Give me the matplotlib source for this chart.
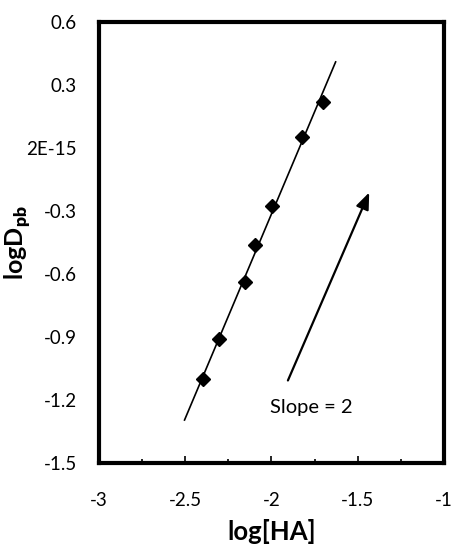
import matplotlib.pyplot as plt
import numpy as np

plt.rcParams['font.family'] = ['Lato', 'DejaVu Sans']
plt.rcParams['mathtext.fontset'] = 'custom'
plt.rcParams['mathtext.bf'] = 'Lato:heavy'

log_ha = [-2.395, -2.303, -2.153, -2.095, -1.997, -1.824, -1.703]
log_d = [-1.10, -0.91, -0.638, -0.462, -0.276, 0.052, 0.219]
fit_range = [-2.504, -1.628]

y_ticks = [0.6, 0.3, 0.0, -0.3, -0.6, -0.9, -1.2, -1.5]
y_labels = ["0.6", "0.3", "2E-15", "-0.3", "-0.6", "-0.9", "-1.2", "-1.5"]
x_ticks = [-3, -2.5, -2, -1.5, -1]
x_labels = ["-3", "-2.5", "-2", "-1.5", "-1"]

arrow_tail = (-1.911, -1.119)
arrow_head = (-1.427, -0.20)

fig = plt.figure(figsize=(4.53, 5.48), dpi=100)
ax = fig.add_axes([0.2185, 0.155, 0.7615, 0.805])

# trendline through the points
k, b = np.polyfit(log_ha, log_d, 1)
xf = np.array(fit_range)
ax.plot(xf, k * xf + b, color='black', lw=1.2)
ax.plot(log_ha, log_d, 'D', color='black', markersize=7.5, ls='none')

ax.annotate("", xy=arrow_head, xytext=arrow_tail,
            arrowprops=dict(arrowstyle='-|>,head_length=1.0,head_width=0.4',
                            color='black', lw=1.6))
ax.text(-1.767, -1.236, "Slope = 2", ha='center', va='center', fontsize=14.5)

ax.set_xlim(-3, -1)
ax.set_ylim(-1.5, 0.6)
ax.set_xticks(x_ticks, x_labels)
ax.set_xticks(np.arange(-2.75, -1, 0.5), minor=True)
ax.set_yticks(y_ticks, y_labels)

ax.tick_params(axis='x', which='major', direction='in', length=5, width=1.2,
               pad=21, labelsize=13.5)
ax.tick_params(axis='x', which='minor', direction='in', length=3, width=1.2)
ax.tick_params(axis='y', which='major', length=0, pad=16, labelsize=13.5)
for s in ax.spines.values():
    s.set_linewidth(3)

ax.set_xlabel("log[HA]", fontsize=18.5, fontweight='bold', labelpad=7)
ax.set_ylabel("logD$_{\\mathbf{pb}}$", fontsize=18, fontweight='bold')
ax.yaxis.set_label_coords(-0.19, 0.5)

fig.savefig("out.png", dpi=100)
